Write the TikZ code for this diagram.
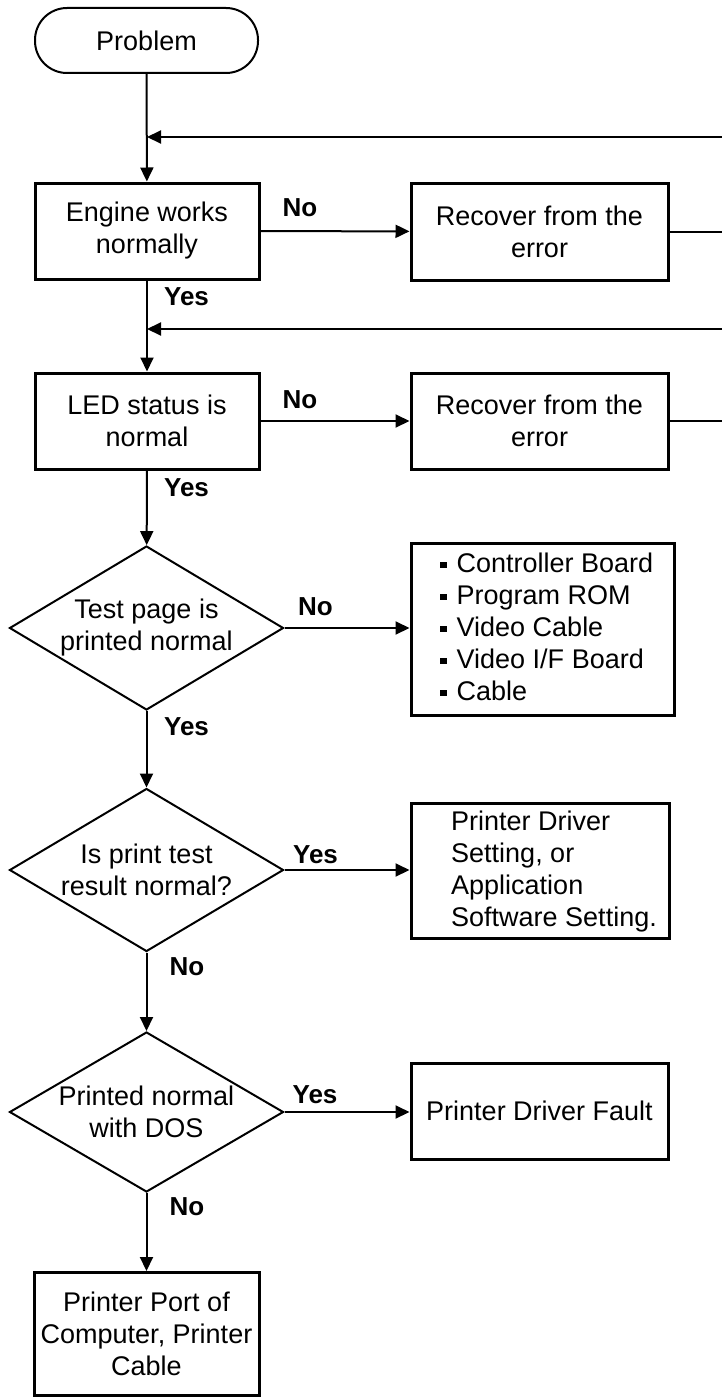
\documentclass[tikz,border=0pt]{standalone}
\usepackage{fontspec}
\setmainfont{Liberation Sans}
\usetikzlibrary{arrows.meta,shapes.geometric}
\tikzset{
	term/.style={draw, line width=2pt, rounded corners=32pt, minimum width=223pt, minimum height=65pt, inner sep=0pt},
	box/.style={draw, line width=3pt, align=center, inner sep=0pt},
	dec/.style={draw, diamond, aspect=1.67, line width=2pt, align=center, inner sep=0pt, minimum width=274pt, minimum height=164pt},
	lbl/.style={font=\fontsize{26}{32}\selectfont\bfseries, inner sep=0pt},
	conn/.style={line width=2pt},
	arr/.style={conn, -{Triangle[length=14pt,width=13pt]}}
}
\newcommand{\sqb}{\rule[4.5pt]{6.5pt}{6.5pt}\hspace{10pt}}
\begin{document}
\begin{tikzpicture}[x=1pt, y=-1pt, every node/.style={font=\fontsize{27}{32}\selectfont}]
	\useasboundingbox (0,0) rectangle (722,1397);
	\node[term] (prob) at (146.5,40.5) {Problem};
	\node[box, minimum width=224pt, minimum height=96pt] (engine) at (147,231) {Engine works\\normally};
	\node[box, minimum width=257pt, minimum height=97pt] (rec1) at (539.5,231.5) {Recover from the\\error};
	\node[box, minimum width=224pt, minimum height=96pt] (led) at (147,421) {LED status is\\normal};
	\node[box, minimum width=257pt, minimum height=96pt] (rec2) at (539.5,421) {Recover from the\\error};
	\node[dec] (test) at (146.5,628) {Test page is\\printed normal};
	\node[box, minimum width=263pt, minimum height=172pt] (parts) at (542.5,629) {};
	\node[anchor=west, align=left, inner sep=0pt] (partstxt) at (440,627) {\sqb Controller Board\\\sqb Program ROM\\\sqb Video Cable\\\sqb Video I/F Board\\\sqb Cable};
	\node[dec, minimum height=163pt] (ptest) at (146.5,870) {Is print test\\result normal?};
	\node[box, minimum width=258pt, minimum height=135pt] (drvset) at (540,870.5) {};
	\node[anchor=west, align=left, inner sep=0pt] (drvsettxt) at (451,872) {Printer Driver\\Setting, or\\Application\\Software Setting.};
	\node[dec, minimum height=160pt] (pdos) at (146.5,1112) {Printed normal\\with DOS};
	\node[box, minimum width=257pt, minimum height=96pt] (fault) at (539.5,1111) {Printer Driver Fault};
	\node[box, minimum width=225pt, minimum height=123pt] (port) at (146.5,1334) {Printer Port of\\Computer, Printer\\Cable};

	\coordinate (j1) at (engine.north |- 0,137);
	\coordinate (r1) at (724,137);
	\coordinate (j2) at (led.north |- 0,329);
	\coordinate (r2) at (724,329);

	\draw[arr] (prob) -- (engine);
	\draw[arr] (r1) -- (j1);
	\draw[arr] (engine) -- (rec1);
	\draw[conn] (rec1.east) -- (rec1.east -| r1);
	\draw[arr] (engine) -- (led);
	\draw[arr] (r2) -- (j2);
	\draw[arr] (led) -- (rec2);
	\draw[conn] (rec2.east) -- (rec2.east -| r2);
	\draw[arr] (led) -- (test);
	\draw[arr] (test.east) -- (test.east -| parts.west);
	\draw[arr] (test) -- (ptest);
	\draw[arr] (ptest.east) -- (ptest.east -| drvset.west);
	\draw[arr] (ptest) -- (pdos);
	\draw[arr] (pdos.east) -- (pdos.east -| fault.west);
	\draw[arr] (pdos) -- (port);

	\node[lbl] (no1) at (300,208) {No};
	\node[lbl] (yes1) at (186.5,297) {Yes};
	\node[lbl] (no2) at (300,400) {No};
	\node[lbl] (yes2) at (186.5,488) {Yes};
	\node[lbl] (no3) at (315.5,607) {No};
	\node[lbl] (yes3) at (186.5,727) {Yes};
	\node[lbl] (yes4) at (315.5,855) {Yes};
	\node[lbl] (no4) at (187,967) {No};
	\node[lbl] (yes5) at (315,1095) {Yes};
	\node[lbl] (no5) at (187,1207) {No};
\end{tikzpicture}
\end{document}
